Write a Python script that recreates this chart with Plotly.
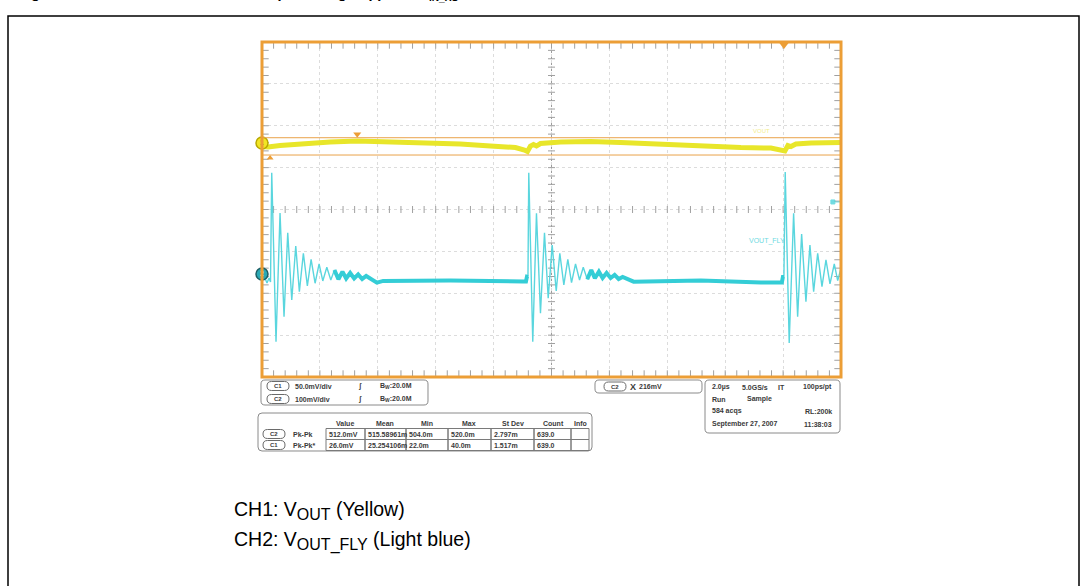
import plotly.graph_objects as go

W, H = 1084, 586

# ---- channel 1 (V_OUT), time in µs, amplitude in screen divisions ----
ch1_time_us = [0.000, 0.208, 0.623, 1.315, 2.353, 3.287, 4.083, 5.467, 6.851, 7.889,
               8.754, 9.066, 9.170, 9.273, 9.377, 9.481, 9.619, 10.311, 11.349, 12.388,
               13.772, 15.156, 16.540, 17.578, 17.924, 18.062, 18.166, 18.270, 18.443, 18.962,
               20.000]
ch1_div = [1.504, 1.492, 1.527, 1.563, 1.611, 1.635, 1.623, 1.599, 1.563, 1.516,
           1.480, 1.420, 1.384, 1.516, 1.551, 1.516, 1.575, 1.611, 1.623, 1.599,
           1.551, 1.504, 1.480, 1.468, 1.432, 1.396, 1.527, 1.504, 1.563, 1.587,
           1.599]

# ---- channel 2 (V_OUT_FLY) ----
ch2_time_us = [
    0.000, 0.069, 0.173, 0.242, 0.294, 0.336, 0.484, 0.623, 0.761, 0.889,
    1.028, 1.166, 1.291, 1.429, 1.567, 1.696, 1.834, 1.972, 2.100, 2.239,
    2.377, 2.502, 2.640, 2.779, 2.907, 3.045, 3.183, 3.322, 3.460, 3.599,
    3.969, 4.187, 6.505, 9.031, 9.118, 9.152, 9.187,
    9.215, 9.353, 9.481, 9.619, 9.758, 9.886, 10.024, 10.163, 10.287, 10.426,
    10.564, 10.692, 10.830, 10.969, 11.097, 11.235, 11.374, 11.498, 11.637, 11.765,
    11.903, 12.042, 12.180, 12.318, 12.457, 12.837, 15.156, 17.232, 17.958, 17.993,
    18.028,
    18.073, 18.211, 18.363, 18.502, 18.640, 18.789, 18.927, 19.055, 19.194, 19.343,
    19.481, 19.619, 19.768, 19.886, 20.000]
ch2_div = [
    -1.683, -1.587, -1.754, -1.635, -1.730, 0.878, -3.155, -0.084, -2.558, -0.554,
    -2.160, -0.871, -1.962, -1.045, -1.826, -1.189, -1.761, -1.301, -1.706, -1.379,
    -1.683, -1.444, -1.666, -1.484, -1.647, -1.516, -1.647, -1.551, -1.659, -1.587,
    -1.747, -1.706, -1.694, -1.718, -1.718, -1.604, -1.611,
    0.878, -3.155, -0.091, -2.477, -0.554, -2.119, -0.847, -1.945, -1.045, -1.802,
    -1.189, -1.747, -1.301, -1.683, -1.379, -1.666, -1.444, -1.642, -1.484, -1.635,
    -1.516, -1.635, -1.563, -1.659, -1.611, -1.723, -1.694, -1.742, -1.742, -1.611,
    -1.611,
    0.895, -3.186, -0.091, -2.558, -0.585, -2.200, -0.847, -1.962, -1.045, -1.842,
    -1.205, -1.778, -1.301, -1.699, -1.403]

# settled (noisy) stretches of channel 2, drawn as a thicker band
ch2_quiet_spans = [(2.5, 9.19), (11.2, 18.03)]

# cursor levels for channel 1 and the channel reference markers (divisions)
ch1_cursor_div = [1.714, 1.301]
ch1_ref_div = 1.587
ch2_ref_div = -1.539

# readout panels
chan_rows = [("C1", "50.0mV/div", "20.0M"), ("C2", "100mV/div", "20.0M")]
meas_headers = ["Value", "Mean", "Min", "Max", "St Dev", "Count", "Info"]
meas_rows = [
    ("C2", "Pk-Pk", ["512.0mV", "515.58961m", "504.0m", "520.0m", "2.797m", "639.0", ""]),
    ("C1", "Pk-Pk*", ["26.0mV", "25.254106m", "22.0m", "40.0m", "1.517m", "639.0", ""]),
]
trig_text = ("C2", "216mV")
acq_rows = [("2.0µs", "5.0GS/s", "IT", "100ps/pt"),
            ("Run", "Sample", "", ""),
            ("584 acqs", "", "", "RL:200k"),
            ("September 27, 2007", "", "", "11:38:03")]

# ---------------------------------------------------------------------------
SX0, SX1, SY0, SY1 = 262, 841, 42, 377   # scope screen in pixels
ORANGE = "#EC9E36"
YELLOW = "#E8E62A"
CYAN = "#34CDD6"
TXT = "#3a3a3a"
FONT = "Liberation Sans"

DIV_PX = (SY1 - SY0) / 8.0        # pixels per vertical division
US_PX = (SX1 - SX0) / 20.0        # pixels per µs


def px(x):
    return x / W


def py(y):
    return 1 - y / H


fig = go.Figure()

# graticule tick marks on the centre cross and along the inside of the frame
minor_t = [i * 0.4 for i in range(51)]
minor_v = [-4 + i * 0.2 for i in range(41)]
tick_style = dict(color="#a0a0a0", width=1)
edge_in_v = 3.2 / DIV_PX
edge_in_t = 3.2 / US_PX
fig.add_trace(go.Scatter(x=minor_t, y=[0] * len(minor_t), mode="markers", cliponaxis=False,
                         marker=dict(symbol="line-ns", size=5, line=tick_style),
                         hoverinfo="skip", showlegend=False))
fig.add_trace(go.Scatter(x=[10] * len(minor_v), y=minor_v, mode="markers", cliponaxis=False,
                         marker=dict(symbol="line-ew", size=5, line=tick_style),
                         hoverinfo="skip", showlegend=False))
fig.add_trace(go.Scatter(x=minor_t * 2,
                         y=[4 - edge_in_v] * len(minor_t) + [-4 + edge_in_v] * len(minor_t),
                         mode="markers", cliponaxis=False,
                         marker=dict(symbol="line-ns", size=5, line=tick_style),
                         hoverinfo="skip", showlegend=False))
fig.add_trace(go.Scatter(x=[edge_in_t] * len(minor_v) + [20 - edge_in_t] * len(minor_v),
                         y=minor_v * 2, mode="markers", cliponaxis=False,
                         marker=dict(symbol="line-ew", size=5, line=tick_style),
                         hoverinfo="skip", showlegend=False))

# channel 1 cursors
for lv in ch1_cursor_div:
    fig.add_shape(type="line", xref="x domain", yref="y", x0=0, x1=1, y0=lv, y1=lv,
                  line=dict(color="#E9A24A", width=1))

# channel 2 trace
fig.add_trace(go.Scatter(x=ch2_time_us, y=ch2_div, mode="lines",
                         line=dict(color="#5AD6DE", width=1.4),
                         hoverinfo="skip", showlegend=False))
for a, b in ch2_quiet_spans:
    qt = [t for t in ch2_time_us if a <= t <= b]
    qv = [v for t, v in zip(ch2_time_us, ch2_div) if a <= t <= b]
    fig.add_trace(go.Scatter(x=qt, y=qv, mode="lines",
                             line=dict(color=CYAN, width=4),
                             hoverinfo="skip", showlegend=False))

# channel 1 trace
fig.add_trace(go.Scatter(x=ch1_time_us, y=ch1_div, mode="lines",
                         line=dict(color=YELLOW, width=5),
                         hoverinfo="skip", showlegend=False))

# on-screen markers
fig.add_trace(go.Scatter(x=[3.29], y=[1.80], mode="markers", cliponaxis=False,
                         marker=dict(symbol="triangle-down", size=7, color=ORANGE),
                         hoverinfo="skip", showlegend=False))
fig.add_trace(go.Scatter(x=[0.28], y=[1.23], mode="markers", cliponaxis=False,
                         marker=dict(symbol="triangle-up", size=6, color=ORANGE),
                         hoverinfo="skip", showlegend=False))
fig.add_trace(go.Scatter(x=[18.03], y=[3.93], mode="markers", cliponaxis=False,
                         marker=dict(symbol="triangle-down", size=8, color=ORANGE),
                         hoverinfo="skip", showlegend=False))
fig.add_trace(go.Scatter(x=[19.72, 19.9], y=[0.18, 0.18], mode="markers", cliponaxis=False,
                         marker=dict(symbol=["square", "line-ew"], size=[4, 4], color=CYAN,
                                     line=dict(color=CYAN, width=1)),
                         hoverinfo="skip", showlegend=False))
fig.add_trace(go.Scatter(x=[0, 0], y=[ch1_ref_div, ch2_ref_div], mode="markers+text",
                         cliponaxis=False, text=["1", "2"], textposition="middle center",
                         textfont=dict(size=7, color=["#5a5a00", "#ffffff"], family=FONT),
                         marker=dict(symbol="circle", size=12, color=["#F2E624", "#2BA9B4"],
                                     line=dict(color=["#B8A800", "#1d5f66"], width=1.5)),
                         hoverinfo="skip", showlegend=False))
fig.add_annotation(x=17.25, y=1.87, xref="x", yref="y", text="VOUT", showarrow=False,
                   font=dict(size=6, color="#F3EE8A", family=FONT))
fig.add_annotation(x=17.45, y=-0.75, xref="x", yref="y", text="VOUT_FLY", showarrow=False,
                   font=dict(size=7, color="#6EDAE2", family=FONT))

# screen frame and centre cross
fig.add_shape(type="line", xref="x", yref="y domain", x0=10, x1=10, y0=0, y1=1,
              line=dict(color="#9c9c9c", width=1, dash="dot"), layer="below")
fig.add_shape(type="line", xref="x domain", yref="y", x0=0, x1=1, y0=0, y1=0,
              line=dict(color="#9c9c9c", width=1, dash="dot"), layer="below")
fig.add_shape(type="rect", xref="x domain", yref="y domain", x0=0, x1=1, y0=0, y1=1,
              line=dict(color=ORANGE, width=3))


# ---- readout panels (pixel layout) ----
def rrect(x0, y0, x1, y1, r, color="#8a8a8a", width=1):
    pts = [("M", x0 + r, y0), ("L", x1 - r, y0), ("Q", x1, y0, x1, y0 + r),
           ("L", x1, y1 - r), ("Q", x1, y1, x1 - r, y1), ("L", x0 + r, y1),
           ("Q", x0, y1, x0, y1 - r), ("L", x0, y0 + r), ("Q", x0, y0, x0 + r, y0)]
    path = ""
    for p in pts:
        cmd, vals = p[0], p[1:]
        coords = []
        for i in range(0, len(vals), 2):
            coords.append(f"{px(vals[i]):.5f},{py(vals[i + 1]):.5f}")
        path += cmd + " " + " ".join(coords) + " "
    fig.add_shape(type="path", xref="paper", yref="paper", path=path + "Z",
                  line=dict(color=color, width=width), fillcolor="white")


def label(x, y, text, size=7, anchor="left", bold=True, color=TXT):
    fig.add_annotation(x=px(x), y=py(y), xref="paper", yref="paper",
                       text=f"<b>{text}</b>" if bold else text,
                       showarrow=False, xanchor=anchor, yanchor="middle",
                       font=dict(size=size, color=color, family=FONT))


def pill(x, y, text):
    rrect(x, y - 4.5, x + 22, y + 4.5, 4.5, color="#6a6a6a", width=1)
    label(x + 11, y, text, size=6, anchor="center")


# channel settings box
rrect(261, 380, 428, 405, 4)
for (ch, vdiv, bw), y in zip(chan_rows, [386, 399]):
    pill(267, y, ch)
    label(293, y, vdiv)
    label(356, y, "ʃ", size=7)
    label(378, y, f"B<sub>W</sub>:{bw}")

# measurement table
rrect(258, 413, 592, 451, 4)
col_edges = [326, 365, 406, 448, 491, 534, 571, 589]
header_x = [345, 385, 427, 469, 513, 553, 580]
for hx, h in zip(header_x, meas_headers):
    label(hx, 423, h, anchor="center")
row_y = [434, 445]
for (ch, name, vals), y in zip(meas_rows, row_y):
    pill(263, y, ch)
    label(291, y, name)
    for x0, x1, v in zip(col_edges[:-1], col_edges[1:], vals):
        fig.add_shape(type="rect", xref="paper", yref="paper",
                      x0=px(x0), x1=px(x1), y0=py(y - 5.5), y1=py(y + 5.5),
                      line=dict(color="#7a7a7a", width=1))
        label(x0 + 1, y, v)

# trigger box
rrect(595, 380, 702, 393, 4)
pill(604, 386.5, trig_text[0])
label(628, 386.5, "X", size=9)
label(637, 386.5, trig_text[1])

# acquisition box
rrect(705, 380, 840, 433, 4)
acq_y = [387, 399, 411, 424]
for (a, b, c, d), y in zip(acq_rows, acq_y):
    if a:
        label(710, y, a)
    if b:
        label(740 if y < 395 else 745, y, b)
    if c:
        label(776, y, c)
    if d:
        label(834, y, d, anchor="right")

# caption lines (subscripts kept close to full size)
SUB = '<sub><span style="font-size:16px">{}</span></sub>'
fig.add_annotation(x=px(232), y=py(510), xref="paper", yref="paper", xanchor="left",
                   yanchor="middle", showarrow=False,
                   text="CH1: V" + SUB.format("OUT") + " (Yellow)",
                   font=dict(size=19.5, color="#000000", family=FONT))
fig.add_annotation(x=px(232), y=py(541), xref="paper", yref="paper", xanchor="left",
                   yanchor="middle", showarrow=False,
                   text="CH2: V" + SUB.format("OUT_FLY") + " (Light blue)",
                   font=dict(size=19.5, color="#000000", family=FONT))

# figure heading (runs off the top edge) and frame
fig.add_annotation(x=px(16), y=py(5.5), xref="paper", yref="paper", xanchor="left",
                   yanchor="bottom", showarrow=False,
                   text="<b>Figure 10. Normal load condition: Output voltage ripple at V<sub>IN_XS</sub></b>",
                   font=dict(size=14.5, color="#000000", family=FONT))
fig.add_shape(type="path", xref="paper", yref="paper",
              path=f"M {px(8)},{py(590)} L {px(8)},{py(16)} L {px(1079)},{py(16)} L {px(1079)},{py(590)}",
              line=dict(color="#000000", width=1.5))

fig.update_xaxes(range=[0, 20], domain=[px(SX0), px(SX1)], showgrid=True, dtick=2,
                 tick0=0, gridcolor="#dcdcdc", griddash="dot", gridwidth=1,
                 zeroline=False, showticklabels=False, ticks="", fixedrange=True)
fig.update_yaxes(range=[-4, 4], domain=[py(SY1), py(SY0)], showgrid=True, dtick=1,
                 tick0=0, gridcolor="#dcdcdc", griddash="dot", gridwidth=1,
                 zeroline=False, showticklabels=False, ticks="", fixedrange=True)
fig.update_layout(width=W, height=H, margin=dict(l=0, r=0, t=0, b=0),
                  paper_bgcolor="white", plot_bgcolor="white", showlegend=False)

fig.write_html("out.html", config={"displayModeBar": False})
